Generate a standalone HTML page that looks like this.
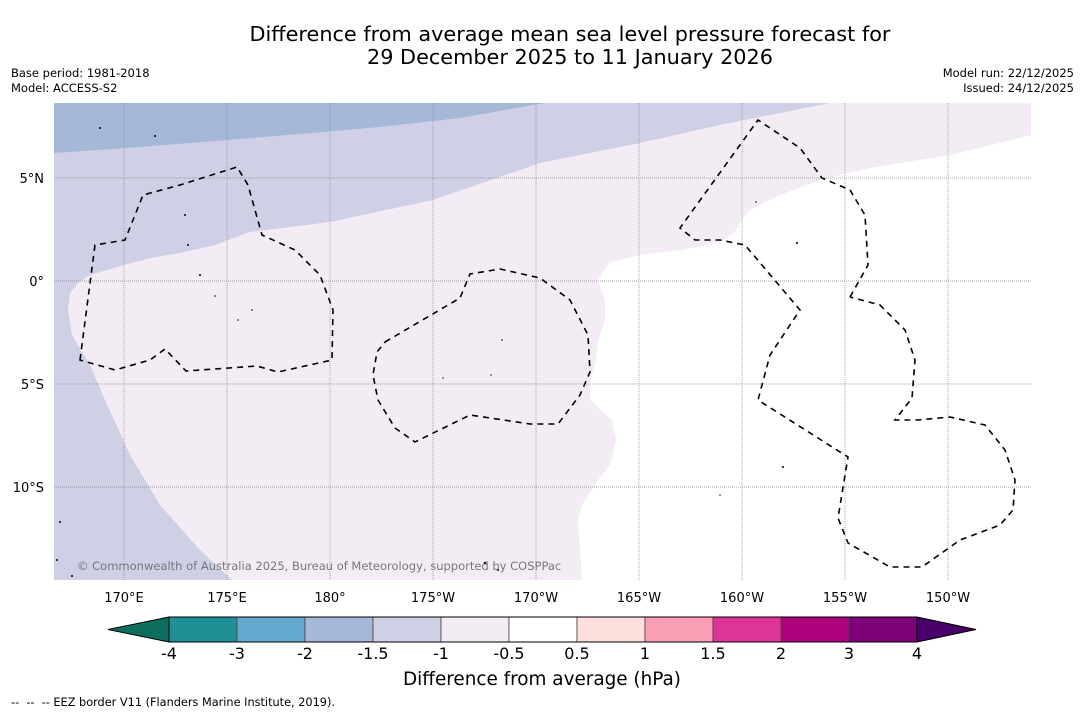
<!DOCTYPE html>
<html><head><meta charset="utf-8">
<style>
body{margin:0;background:#fff;font-family:"DejaVu Sans","Liberation Sans",sans-serif;}
#wrap{position:relative;width:1085px;height:713px;overflow:hidden;background:#fff;}
</style></head>
<body>
<div id="wrap">
<svg id="svg" width="1085" height="713" xmlns="http://www.w3.org/2000/svg" style="position:absolute;left:0;top:0;font-family:'DejaVu Sans','Liberation Sans',sans-serif;">
<text x="570" y="41" text-anchor="middle" font-size="20.8" fill="#000">Difference from average mean sea level pressure forecast for</text>
<text x="570" y="64" text-anchor="middle" font-size="20.8" fill="#000">29 December 2025 to 11 January 2026</text>
<text x="11" y="77" font-size="11.5">Base period: 1981-2018</text>
<text x="11" y="92" font-size="11.5">Model: ACCESS-S2</text>
<text x="1074" y="77" font-size="11.5" text-anchor="end">Model run: 22/12/2025</text>
<text x="1074" y="92" font-size="11.5" text-anchor="end">Issued: 24/12/2025</text>

<g>
<clipPath id="mc"><rect x="54" y="103" width="977" height="477"/></clipPath>
<g clip-path="url(#mc)">
<rect x="54" y="103" width="977" height="477" fill="#cfd0e5"/>
<polygon fill="#a5b8d8" points="54,103 545,103 460,118 380,127 300,134 227,140 140,147 54,153"/>
<polygon fill="#f3ecf5" points="70,293 78,283 90,275 124,265 150,258 180,253 215,245 250,232 330,222 433,200 540,163 640,143 720,125 830,103 1031,103 1031,580 232,580 200,550 160,505 130,455 105,400 90,365 72,335 68,310"/>
<polygon fill="#ffffff" points="1031,135 950,155 870,168 820,180 780,195 750,210 740,222 735,232 720,243 680,250 640,255 610,262 598,280 605,300 605,320 598,340 596,360 590,385 590,400 612,420 616,440 610,465 598,480 582,505 578,520 582,580 1031,580"/>
<g id="grid" stroke="#888" stroke-width="0.7" stroke-dasharray="1,1"></g>
<g fill="none" stroke="#000" stroke-width="1.6" stroke-dasharray="6,5">
<polygon points="80,360 95,245 125,240 143,195 180,185 237,167 248,185 262,235 295,250 320,275 333,310 332,360 278,372 257,366 186,371 165,349 150,360 115,370"/>
<polygon points="385,342 460,298 470,274 500,269 540,278 570,300 588,335 590,372 580,395 558,424 530,424 470,415 415,442 395,428 378,400 373,375 377,352"/>
<polyline points="850,297 868,265 865,215 850,190 822,178 800,148 758,120 680,228 695,240 720,240 745,245 800,310 770,355 758,400 848,457 838,518 848,543 890,567 922,567 960,540 1000,525 1013,510 1015,480 1005,450 985,425 950,417 918,420 895,420 912,398 915,360 905,330 880,305 850,297"/>
</g>
<g fill="#000">
<circle cx="100" cy="128" r="1"/><circle cx="155" cy="136" r="1"/><circle cx="185" cy="215" r="1"/><circle cx="188" cy="245" r="1"/><circle cx="200" cy="275" r="1"/><circle cx="215" cy="296" r="0.8"/><circle cx="238" cy="320" r="0.8"/><circle cx="252" cy="310" r="0.8"/><circle cx="502" cy="340" r="0.8"/><circle cx="491" cy="375" r="0.7"/><circle cx="443" cy="378" r="0.7"/><circle cx="783" cy="467" r="1"/><circle cx="797" cy="243" r="1"/><circle cx="756" cy="202" r="0.8"/><circle cx="720" cy="495" r="0.7"/><circle cx="485" cy="563" r="1.3"/><circle cx="498" cy="570" r="1"/><circle cx="60" cy="522" r="1"/><circle cx="57" cy="560" r="1"/><circle cx="72" cy="576" r="1"/>
</g>
</g>
<text x="77" y="570" font-size="11.5" fill="#777">© Commonwealth of Australia 2025, Bureau of Meteorology, supported by COSPPac</text>
<g id="xlabels" font-size="13" text-anchor="middle"></g>
<g id="ylabels" font-size="13" text-anchor="end"></g>
</g>

<g id="cbar"></g>
<text x="542" y="685" text-anchor="middle" font-size="18.4">Difference from average (hPa)</text>
<text x="11" y="706" font-size="11.3" xml:space="preserve" style="white-space:pre">--  --  -- EEZ border V11 (Flanders Marine Institute, 2019).</text>
</svg>
</div>
<script>
const lonTicks=[170,175,180,185,190,195,200,205,210];
const lonLabels=["170°E","175°E","180°","175°W","170°W","165°W","160°W","155°W","150°W"];
const latTicks=[5,0,-5,-10];
const latLabels=["5°N","0°","5°S","10°S"];
const cbLevels=[-4,-3,-2,-1.5,-1,-0.5,0.5,1,1.5,2,3,4];
const cbLabels=["-4","-3","-2","-1.5","-1","-0.5","0.5","1","1.5","2","3","4"];
const cbColors=["#1f9196","#66a9cf","#a5b8d8","#cfd0e5","#f3ecf5","#ffffff","#fde0dd","#f99fb6","#dd3497","#ae017e","#7a0177"];
const NS="http://www.w3.org/2000/svg";
function lonX(l){return 124+(l-170)*20.6;}
function latY(l){return 281-l*20.6;}
function mk(t,a,p){const e=document.createElementNS(NS,t);for(const k in a)e.setAttribute(k,a[k]);p.appendChild(e);return e;}
const grid=document.getElementById('grid'),xl=document.getElementById('xlabels'),yl=document.getElementById('ylabels');
lonTicks.forEach((l,i)=>{const x=lonX(l);
 const g=mk('line',{x1:x,x2:x,y1:103,y2:580},grid);
 
 
 const t=mk('text',{x:x,y:602},xl);t.textContent=lonLabels[i];
 
 });
latTicks.forEach((l,i)=>{const y=latY(l);
 const g=mk('line',{x1:54,x2:1031,y1:y,y2:y},grid);
 
 
 const t=mk('text',{x:44,y:y+5},yl);t.textContent=latLabels[i];
 
 });
const cb=document.getElementById('cbar');
const x0=169,dx=68,y0=617,h=25;
function cbX(i){return x0+i*dx;}
const la=mk('polygon',{points:`108,${y0+h/2} ${x0},${y0} ${x0},${y0+h}`,fill:'#0e6e5e',stroke:'#000','stroke-width':1},cb);


const xe=cbX(cbLevels.length-1);
const ra=mk('polygon',{points:`${xe},${y0} ${xe+59},${y0+h/2} ${xe},${y0+h}`,fill:'#49006a',stroke:'#000','stroke-width':1},cb);


cbColors.forEach((c,i)=>{const r=mk('rect',{x:cbX(i),y:y0,width:dx,height:h,fill:c,stroke:'#444','stroke-width':0.8},cb);
 
 });
mk('rect',{x:x0,y:y0,width:xe-x0,height:h,fill:'none',stroke:'#000','stroke-width':1},cb);
cbLevels.forEach((v,i)=>{const t=mk('text',{x:cbX(i),y:659,'font-size':16,'text-anchor':'middle'},cb);t.textContent=cbLabels[i];
 
 });
</script>
</body></html>
